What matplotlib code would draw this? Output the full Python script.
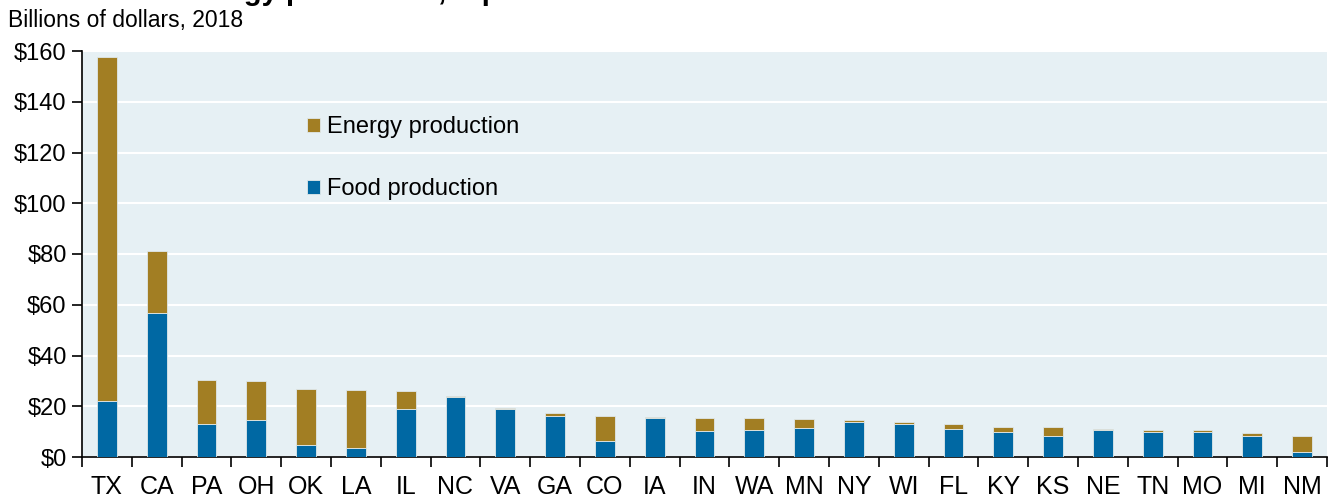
import matplotlib
matplotlib.use("Agg")
import matplotlib.pyplot as plt
import numpy as np

plt.rcParams['font.family'] = ['Liberation Sans', 'DejaVu Sans']

# states and values, billions of dollars 2018
states = ['TX', 'CA', 'PA', 'OH', 'OK', 'LA', 'IL', 'NC', 'VA', 'GA', 'CO', 'IA', 'IN',
          'WA', 'MN', 'NY', 'WI', 'FL', 'KY', 'KS', 'NE', 'TN', 'MO', 'MI', 'NM']
food = [22.0, 56.7, 13.0, 14.6, 4.7, 3.5, 18.9, 23.6, 18.9, 16.3, 6.3, 15.5, 10.4,
        10.8, 11.5, 13.6, 13.1, 11.2, 9.7, 8.3, 10.6, 9.7, 10.0, 8.4, 2.1]
total = [157.5, 81.0, 30.3, 29.9, 26.8, 26.4, 26.0, 24.0, 19.3, 17.3, 16.1, 15.9, 15.2,
         15.2, 14.8, 14.5, 13.8, 12.9, 11.7, 11.7, 10.9, 10.5, 10.5, 9.6, 8.4]
energy = [t - f for t, f in zip(total, food)]
yticks = [0, 20, 40, 60, 80, 100, 120, 140, 160]

food_col = '#0068A3'
energy_col = '#A27E23'

fig = plt.figure(figsize=(13.35, 5), dpi=100)
ax = fig.add_axes([0.0614, 0.086, 0.9326, 0.812])
ax.set_facecolor('#E6F0F4')

x = np.arange(len(states))
ax.bar(x, food, width=0.4, color=food_col, edgecolor='#dfe8ea', linewidth=0.6,
       label='Food production', zorder=3)
ax.bar(x, energy, width=0.4, bottom=food, color=energy_col, edgecolor='#dfe8ea',
       linewidth=0.6, label='Energy production', zorder=3)

ax.set_xlim(-0.5, len(states) - 0.5)
ax.set_ylim(0, 160)
ax.set_yticks(yticks)
ax.set_yticklabels(['$%d' % v for v in yticks], fontsize=17)
ax.yaxis.grid(True, color='white', linewidth=1.5, zorder=0)
ax.set_axisbelow(True)

ax.set_xticks(x)
ax.set_xticklabels(states, fontsize=18)
ax.tick_params(axis='x', which='major', length=0, pad=13)
ax.set_xticks(np.arange(-0.5, len(states)), minor=True)
ax.tick_params(axis='x', which='minor', length=7, width=1.2, direction='out')
ax.tick_params(axis='y', length=7, width=1.2, direction='out', pad=4)

for s in ['top', 'right']:
    ax.spines[s].set_visible(False)
for s in ['left', 'bottom']:
    ax.spines[s].set_linewidth(1.2)
    ax.spines[s].set_color('black')

h, l = ax.get_legend_handles_labels()
ax.legend(h[::-1], l[::-1], loc='upper left', bbox_to_anchor=(0.171, 0.868),
          frameon=False, fontsize=17, handlelength=0.55, handleheight=0.55,
          handletextpad=0.3, labelspacing=1.68, borderpad=0)

fig.text(8 / 1335, 1 - 20 / 500, 'Billions of dollars, 2018', fontsize=16.5,
         va='center', ha='left')
fig.text(43 / 1335, 1.0, 'Food and energy production, top 25 states', fontsize=21,
         fontweight='bold', va='baseline', ha='left')

fig.savefig('out.png', dpi=100)
